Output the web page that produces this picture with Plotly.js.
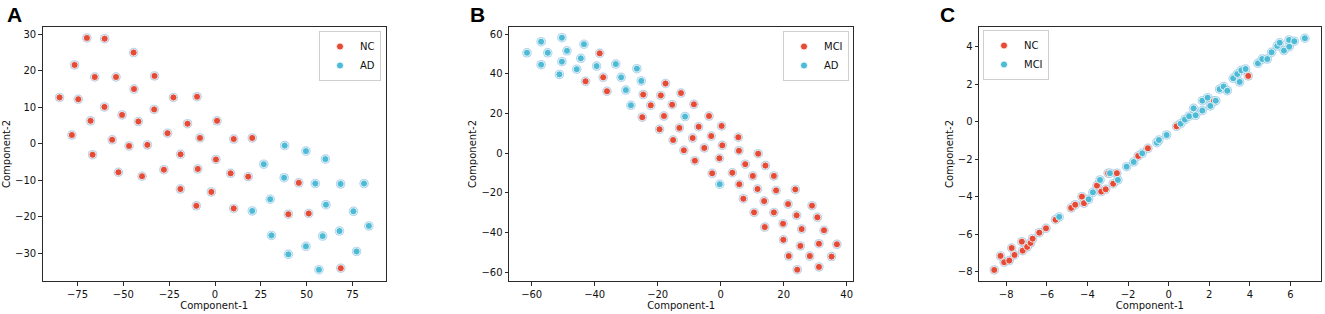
<!DOCTYPE html>
<html><head><meta charset="utf-8">
<script src="https://cdn.plot.ly/plotly-3.0.1.min.js"></script>
<style>html,body{margin:0;padding:0;background:#fff;}#chart{width:1325px;height:314px;}</style>
</head><body><div id="chart"></div>
<script>
// ---------- Panel A: NC vs AD ----------
const A_NC_x = [-69.9,-60.2,-44.4,-76.6,-65.6,-54.0,-33.0,-44.2,-84.8,-74.6,-22.7,-9.8,-60.3,-33.2,-50.7,-67.9,-41.8,1.1,-15.0,-78.1,-25.9,-8.2,-56.1,-46.9,-36.9,-66.8,-18.8,0.5,-52.7,-39.8,-27.9,-9.4,-18.9,-2.0,-10.2,10.2,20.3,8.5,18.1,45.7,10.2,40.0,51.1,68.6];
const A_NC_y = [29.0,28.8,25.0,21.6,18.3,18.3,18.6,15.0,12.7,12.2,12.7,12.9,10.1,9.4,7.9,6.3,6.1,6.3,5.5,2.4,2.9,1.6,1.1,-0.6,-0.3,-3.0,-2.9,-4.3,-7.8,-8.9,-7.1,-6.9,-12.4,-13.2,-17.0,1.3,1.6,-8.1,-9.0,-10.7,-17.7,-19.3,-19.1,-34.1];
const A_AD_x = [38.0,49.6,60.2,26.6,37.7,54.7,68.5,81.3,30.1,20.3,60.5,75.5,83.9,67.9,30.8,58.7,49.6,40.0,77.2,56.7];
const A_AD_y = [-0.5,-2.0,-4.2,-5.6,-9.3,-10.9,-11.0,-10.9,-15.2,-18.4,-16.7,-18.5,-22.5,-23.9,-25.1,-25.3,-28.1,-30.3,-29.5,-34.5];

// ---------- Panel B: MCI vs AD ----------
const B_MCI_x = [-38.4,-42.9,-37.3,-36.1,-24.6,-22.2,-24.9,-19.0,-17.5,-18.0,-19.4,-12.6,-15.4,-8.5,-3.7,-13.1,-7.0,0.3,-15.1,-8.9,-3.0,5.6,-11.7,-5.2,0.5,5.8,11.9,-8.2,-0.4,7.8,14.2,-2.7,3.7,10.2,16.9,5.9,11.7,17.6,23.7,7.2,13.8,21.4,29.0,10.6,16.9,24.1,30.7,14.0,19.8,25.7,32.8,19.9,25.3,31.2,36.9,21.6,28.3,35.2,24.3,31.2];
const B_MCI_y = [50.4,36.3,38.3,31.3,29.6,24.2,18.2,29.2,35.2,18.8,12.1,30.4,24.5,24.7,18.8,12.8,13.4,13.8,6.7,7.7,8.7,8.1,1.5,2.7,4.0,1.3,-0.2,-3.7,-2.5,-5.5,-6.2,-10.1,-9.8,-11.4,-11.4,-15.6,-18.0,-18.7,-18.2,-22.9,-24.1,-25.6,-26.4,-29.8,-29.8,-31.3,-32.3,-37.2,-35.5,-38.2,-38.8,-43.6,-46.7,-45.6,-45.9,-51.8,-51.8,-52.1,-58.7,-57.3];
const B_AD_x = [-61.5,-57.0,-50.4,-54.9,-57.0,-48.8,-43.4,-50.4,-44.4,-51.2,-45.7,-39.4,-33.3,-31.6,-26.6,-30.1,-25.2,-28.5,-11.3,-0.3];
const B_AD_y = [50.7,56.3,58.3,50.7,44.7,51.7,55.0,46.2,47.9,39.8,42.4,44.0,45.0,38.3,42.7,31.9,36.5,24.2,18.5,-15.6];

// ---------- Panel C: NC vs MCI ----------
const C_NC_x = [-8.59,-8.28,-8.10,-7.85,-7.73,-7.59,-7.23,-7.19,-6.97,-6.80,-6.70,-6.37,-6.04,-5.57,-4.80,-4.60,-4.27,-4.17,-3.53,-3.32,-3.10,-2.73,-2.55,-2.98,-1.50,-1.02,0.39,2.23,3.92];
const C_NC_y = [-7.91,-7.16,-7.50,-7.41,-6.74,-7.11,-6.40,-6.88,-6.68,-6.47,-6.24,-5.92,-5.69,-5.23,-4.60,-4.43,-4.00,-4.35,-3.41,-3.73,-3.61,-3.31,-2.75,-2.75,-1.83,-1.42,-0.25,1.10,2.44];
const C_MCI_x = [-5.39,-3.73,-3.94,-3.38,-2.89,-2.50,-2.07,-1.72,-1.30,-0.58,-0.48,-0.10,0.59,0.80,1.01,1.23,1.33,1.66,1.66,1.92,2.05,2.32,2.51,2.71,2.89,3.18,3.38,3.58,3.50,3.79,4.40,4.61,4.86,5.07,5.35,5.47,5.68,5.94,5.93,6.19,6.71];
const C_MCI_y = [-5.08,-3.77,-4.14,-3.11,-2.75,-3.11,-2.40,-2.15,-1.69,-1.12,-0.98,-0.71,-0.11,0.11,0.29,0.71,0.34,0.59,1.12,1.28,0.84,1.12,1.73,1.87,1.65,2.31,2.54,2.74,2.12,2.81,3.11,3.34,3.34,3.70,4.04,4.21,3.79,4.00,4.36,4.29,4.45];

// tick labels
const A_xticks = [-75,-50,-25,0,25,50,75];
const A_yticks = [-30,-20,-10,0,10,20,30];
const B_xticks = [-60,-40,-20,0,20,40];
const B_yticks = [-60,-40,-20,0,20,40,60];
const C_xticks = [-8,-6,-4,-2,0,2,4,6];
const C_yticks = [-8,-6,-4,-2,0,2,4];

const RED = '#E64B35', CYAN = '#4DBBD5', SHADOW = 'rgba(120,178,222,0.6)';
const W = 1325, H = 314;
const yDom = [(H-281)/H, (H-27)/H];
const panels = [
  {xd:[42.7,385.7], xr:[-94.0,93.1], yr:[-37.6,32.0], xt:A_xticks, yt:A_yticks},
  {xd:[509,853.3], xr:[-67.2,42.1], yr:[-64.4,63.7], xt:B_xticks, yt:B_yticks},
  {xd:[979,1320.7], xr:[-9.34,7.49], yr:[-8.50,5.05], xt:C_xticks, yt:C_yticks}
];
const tickFont = {family:'DejaVu Sans, sans-serif', size:10, color:'#111'};
const layout = {
  width:W, height:H, margin:{l:0,r:0,t:0,b:0},
  paper_bgcolor:'#fff', plot_bgcolor:'#fff', showlegend:true,
  annotations:[], font:tickFont
};
const sx = n=> n===1?'':String(n);
panels.forEach((p,i)=>{
  const n = i+1;
  layout['xaxis'+sx(n)] = {domain:[p.xd[0]/W, p.xd[1]/W], range:p.xr, anchor:'y'+sx(n), showline:true, mirror:true,
    linecolor:'#2a2a2a', linewidth:1, ticks:'outside', ticklen:3.5, tickwidth:1, tickcolor:'#2a2a2a',
    showgrid:false, zeroline:false, tickmode:'array', tickvals:p.xt, tickfont:tickFont,
    title:{text:'Component-1', font:tickFont, standoff:2}};
  layout['yaxis'+sx(n)] = {domain:yDom, range:p.yr, anchor:'x'+sx(n), showline:true, mirror:true,
    linecolor:'#2a2a2a', linewidth:1, ticks:'outside', ticklen:3.5, tickwidth:1, tickcolor:'#2a2a2a',
    showgrid:false, zeroline:false, tickmode:'array', tickvals:p.yt, tickfont:tickFont,
    title:{text:'Component-2', font:tickFont, standoff:2}};
});
const legBase = {bordercolor:'#cfcfcf', borderwidth:1, bgcolor:'rgba(255,255,255,0.85)',
  font:{family:'DejaVu Sans, sans-serif', size:10, color:'#111'}, itemwidth:30, tracegroupgap:0};
layout.legend  = Object.assign({}, legBase, {x:381/W, xanchor:'right', y:(H-31)/H, yanchor:'top'});
layout.legend2 = Object.assign({}, legBase, {x:849/W, xanchor:'right', y:(H-31)/H, yanchor:'top'});
layout.legend3 = Object.assign({}, legBase, {x:983/W, xanchor:'left', y:(H-30)/H, yanchor:'top'});

const letters = [['A',14],['B',477],['C',947.5]];
letters.forEach(([t,x])=>layout.annotations.push({text:'<b>'+t+'</b>', x:x/W, y:(H-15)/H, xref:'paper', yref:'paper',
  xanchor:'center', yanchor:'middle', showarrow:false, font:{family:'Liberation Sans, Arial, sans-serif', size:21, color:'#000'}}));

const traces = [];
const groups = [
  [[A_NC_x,A_NC_y,'NC',RED],[A_AD_x,A_AD_y,'AD',CYAN]],
  [[B_MCI_x,B_MCI_y,'MCI',RED],[B_AD_x,B_AD_y,'AD',CYAN]],
  [[C_NC_x,C_NC_y,'NC',RED],[C_MCI_x,C_MCI_y,'MCI',CYAN]]
];
groups.forEach((g,i)=>{
  const n=i+1, leg = i===0?'legend':'legend'+(i+1);
  g.forEach(([x,y,name,col])=>{
    traces.push({type:'scatter', mode:'markers', x:x, y:y, xaxis:'x'+sx(n), yaxis:'y'+sx(n), showlegend:false, hoverinfo:'skip',
      marker:{size:9.5, color:SHADOW, line:{width:0}}});
  });
  g.forEach(([x,y,name,col])=>{
    traces.push({type:'scatter', mode:'markers', x:x, y:y, xaxis:'x'+sx(n), yaxis:'y'+sx(n), name:name, legend:leg,
      marker:{size:7, color:col, line:{width:0.8, color:'#fff'}}});
  });
});
Plotly.newPlot('chart', traces, layout, {displayModeBar:false, staticPlot:true});
</script></body></html>
